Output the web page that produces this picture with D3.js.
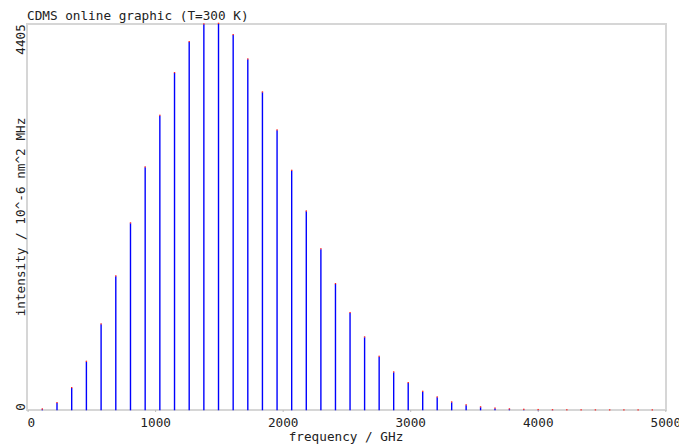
<!DOCTYPE html>
<html>
<head>
<meta charset="utf-8">
<script src="https://cdn.jsdelivr.net/npm/d3@7"></script>
<style>
  body { margin: 0; background: #fff; }
  svg text { font-family: "DejaVu Sans Mono", monospace; font-size: 12.7px; fill: #222; }
</style>
</head>
<body>
<svg id="chart"></svg>
<script>
// line frequencies (GHz) and intensities (10^-6 nm^2 MHz)
const frequencies = [115.3, 230.5, 345.8, 461.0, 576.3, 691.5, 806.7, 921.8, 1036.9, 1152.0,
    1267.0, 1382.0, 1496.9, 1611.8, 1726.6, 1841.3, 1956.0, 2070.6, 2185.1, 2299.6,
    2413.9, 2528.2, 2642.3, 2756.4, 2870.3, 2984.2, 3097.9, 3211.5, 3325.0, 3438.4,
    3551.6, 3664.7, 3777.6, 3890.4, 4003.1, 4115.6, 4227.9, 4340.0, 4452.0, 4563.8,
    4675.4, 4786.8, 4898.1];
const intensities = [11, 83, 254, 554, 980, 1527, 2131, 2769, 3357, 3843,
    4196, 4398, 4405, 4276, 3999, 3623, 3190, 2730, 2267, 1836,
    1439, 1109, 832, 611, 433, 311, 212, 148, 91, 58,
    35, 21, 12, 7, 4, 2, 1.2, 0.6, 0.3, 0.15,
    0.08, 0.04, 0.02];
const xTicks = [0, 1000, 2000, 3000, 4000, 5000];
const yTicks = [0, 4405];

const title = "CDMS online graphic (T=300 K)";
const xLabel = "frequency / GHz";
const yLabel = "intensity / 10^-6 nm^2 MHz";

const width = 679;
const height = 446;

const svg = d3.select("#chart")
    .attr("width", width)
    .attr("height", height);

const xScale = d3.scaleLinear().domain([0, 5000]).range([27.6, 665.3]);
const yScale = d3.scaleLinear().domain([0, 4405]).range([410.3, 23.7]);

// frame
svg.append("rect")
    .attr("x", 27)
    .attr("y", 24)
    .attr("width", 639)
    .attr("height", 386)
    .attr("fill", "none")
    .attr("stroke", "#d6d6d6")
    .attr("stroke-width", 2);

// x axis
const xAxis = d3.axisBottom(xScale)
    .tickValues(xTicks)
    .tickFormat(d3.format("d"))
    .tickSizeInner(2)
    .tickSizeOuter(0);

const gx = svg.append("g")
    .attr("transform", "translate(0, 410)")
    .call(xAxis);
gx.select(".domain").remove();
gx.selectAll("line").attr("stroke", "#bbb");
gx.selectAll("text")
    .attr("y", 17)
    .attr("dy", null)
    .attr("text-anchor", d => d === 0 ? "start" : "middle")
    .attr("x", d => d === 0 ? -0.6 : 0)
    .attr("fill", "#222");

// y axis
const yAxis = d3.axisLeft(yScale)
    .tickValues(yTicks)
    .tickFormat(d3.format("d"))
    .tickSize(0);

const gy = svg.append("g")
    .attr("transform", "translate(27, 0)")
    .call(yAxis);
gy.select(".domain").remove();
gy.selectAll("text")
    .attr("transform", "rotate(-90)")
    .attr("x", 0)
    .attr("y", -2)
    .attr("dy", null)
    .attr("text-anchor", d => d === 0 ? "start" : "end")
    .attr("fill", "#222");

// lines
const lines = d3.zip(frequencies, intensities);

svg.selectAll(".bar")
    .data(lines)
    .enter()
    .append("line")
    .attr("class", "bar")
    .attr("x1", d => xScale(d[0]))
    .attr("x2", d => xScale(d[0]))
    .attr("y1", yScale(0))
    .attr("y2", d => yScale(d[1]))
    .attr("stroke", "#0000ff")
    .attr("stroke-width", 1.4);

svg.selectAll(".tip")
    .data(lines)
    .enter()
    .append("rect")
    .attr("class", "tip")
    .attr("x", d => xScale(d[0]) - 0.7)
    .attr("y", d => yScale(d[1]) - 1)
    .attr("width", 1.4)
    .attr("height", 1.2)
    .attr("fill", "#ff2020");

// labels
svg.append("text")
    .attr("x", 27)
    .attr("y", 20)
    .text(title);

svg.append("text")
    .attr("x", 346)
    .attr("y", 441)
    .attr("text-anchor", "middle")
    .text(xLabel);

svg.append("text")
    .attr("transform", "translate(25, 217) rotate(-90)")
    .attr("text-anchor", "middle")
    .text(yLabel);
</script>
</body>
</html>
